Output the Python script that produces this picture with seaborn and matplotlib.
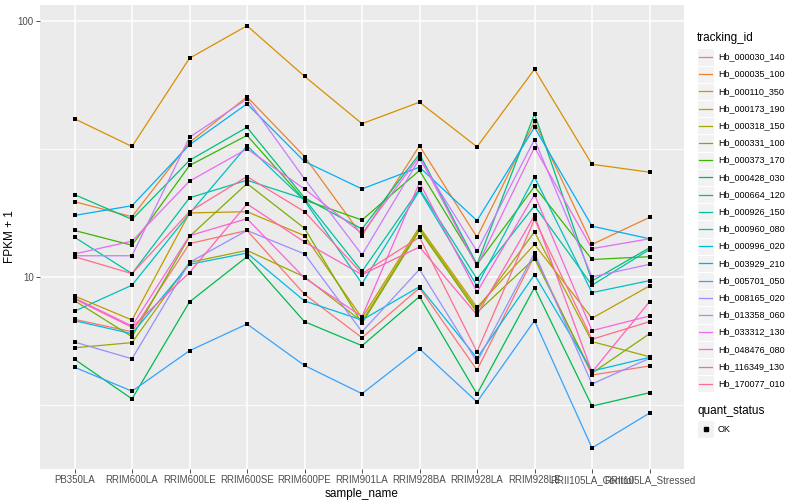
import matplotlib
matplotlib.use('Agg')
import matplotlib.pyplot as plt
from matplotlib.lines import Line2D
from matplotlib.patches import Rectangle
from matplotlib.ticker import NullFormatter
import pandas as pd
import seaborn as sns

samples = ['PB350LA', 'RRIM600LA', 'RRIM600LE', 'RRIM600SE', 'RRIM600PE', 'RRIM901LA',
           'RRIM928BA', 'RRIM928LA', 'RRIM928LE', 'RRII105LA_Control', 'RRII105LA_Stressed']

tracking_ids = ['Hb_000030_140', 'Hb_000035_100', 'Hb_000110_350', 'Hb_000173_190',
                'Hb_000318_150', 'Hb_000331_100', 'Hb_000373_170', 'Hb_000428_030',
                'Hb_000664_120', 'Hb_000926_150', 'Hb_000960_080', 'Hb_000996_020',
                'Hb_003929_210', 'Hb_005701_050', 'Hb_008165_020', 'Hb_013358_060',
                'Hb_033312_130', 'Hb_048476_080', 'Hb_116349_130', 'Hb_170077_010']

# ggplot default hue palette for 20 levels
colors = ['#F8766D', '#EA8331', '#D89000', '#C09B00', '#A3A500', '#7CAE00', '#39B600',
          '#00BB4E', '#00BF7D', '#00C1A3', '#00BFC4', '#00BAE0', '#00B0F6', '#35A2FF',
          '#9590FF', '#C77CFF', '#E76BF3', '#FA62DB', '#FF62BC', '#FF6C90']

# FPKM + 1, one list per gene, in sample order
hb_000030_140 = [6.82, 6.10, 13.5, 15.2, 8.55, 5.78, 9.05, 4.32, 12.1, 4.13, 4.48]
hb_000035_100 = [19.7, 17.2, 33.6, 50.7, 29.6, 14.5, 32.6, 14.3, 40.6, 13.4, 17.1]
hb_000110_350 = [41.6, 32.4, 71.8, 96.2, 61.0, 39.8, 48.3, 32.3, 65.0, 27.6, 25.7]
hb_000173_190 = [8.42, 6.78, 17.8, 18.0, 14.5, 6.91, 15.7, 7.60, 13.4, 6.89, 9.22]
hb_000318_150 = [5.28, 5.53, 11.4, 12.7, 10.0, 6.69, 15.4, 7.42, 15.0, 5.58, 4.87]
hb_000331_100 = [8.07, 5.83, 14.4, 23.2, 15.5, 6.58, 15.2, 7.26, 11.8, 4.20, 5.99]
hb_000373_170 = [15.2, 13.3, 27.3, 35.8, 20.0, 16.7, 26.1, 11.2, 22.6, 11.7, 12.0]
hb_000428_030 = [4.76, 3.33, 7.98, 12.0, 6.68, 5.38, 8.37, 3.48, 9.08, 3.12, 3.52]
hb_000664_120 = [21.0, 16.8, 28.6, 38.5, 20.4, 15.4, 30.3, 11.2, 43.5, 9.64, 13.0]
hb_000926_150 = [14.3, 10.3, 20.4, 23.9, 20.2, 10.5, 22.1, 9.82, 19.0, 9.28, 12.8]
hb_000960_080 = [7.34, 9.28, 17.7, 32.6, 19.9, 9.41, 21.8, 9.22, 24.6, 8.68, 9.67]
hb_000996_020 = [6.74, 5.99, 11.2, 12.4, 8.05, 6.78, 9.16, 4.81, 10.2, 4.28, 4.84]
hb_003929_210 = [17.4, 19.0, 32.9, 47.6, 28.3, 22.1, 26.9, 16.6, 38.5, 15.8, 14.1]
hb_005701_050 = [4.43, 3.57, 5.14, 6.54, 4.50, 3.49, 5.23, 3.24, 6.74, 2.14, 2.93]
hb_008165_020 = [5.56, 4.78, 11.4, 15.2, 12.3, 6.10, 10.7, 4.65, 12.4, 3.81, 4.80]
hb_013358_060 = [12.1, 12.1, 35.2, 49.7, 24.2, 12.2, 29.0, 12.6, 34.5, 10.0, 11.2]
hb_033312_130 = [12.3, 13.8, 23.7, 31.7, 22.1, 14.8, 29.6, 11.0, 32.1, 12.9, 14.1]
hb_048476_080 = [8.27, 6.42, 14.5, 16.9, 9.91, 6.99, 23.4, 8.73, 21.0, 6.16, 7.03]
hb_116349_130 = [8.20, 6.35, 10.4, 19.3, 13.7, 10.2, 13.1, 7.10, 17.4, 4.24, 8.00]
hb_170077_010 = [12.0, 10.3, 18.0, 24.7, 18.0, 10.3, 14.3, 5.09, 16.8, 5.70, 6.68]

series = [hb_000030_140, hb_000035_100, hb_000110_350, hb_000173_190, hb_000318_150,
          hb_000331_100, hb_000373_170, hb_000428_030, hb_000664_120, hb_000926_150,
          hb_000960_080, hb_000996_020, hb_003929_210, hb_005701_050, hb_008165_020,
          hb_013358_060, hb_033312_130, hb_048476_080, hb_116349_130, hb_170077_010]

rows = []
for gene, values in zip(tracking_ids, series):
    for sample, v in zip(samples, values):
        rows.append({'tracking_id': gene, 'sample_name': sample, 'fpkm': v, 'quant_status': 'OK'})
df = pd.DataFrame(rows)

plt.rcParams['font.family'] = ['Liberation Sans', 'DejaVu Sans']

W, H = 800, 500
fig = plt.figure(figsize=(8, 5), dpi=100)
ax = fig.add_axes([40 / W, 1 - 469 / H, 644 / W, 464 / H])
ax.set_facecolor('#EBEBEB')

sns.lineplot(data=df, x='sample_name', y='fpkm', hue='tracking_id', hue_order=tracking_ids,
             palette=colors, sort=False, estimator=None, legend=False, linewidth=0.9, ax=ax)
sns.scatterplot(data=df, x='sample_name', y='fpkm', color='black', marker='s', s=8,
                linewidth=0, legend=False, ax=ax, zorder=3)

ax.set_yscale('log')
ax.set_ylim(1.77, 116)
ax.set_xlim(-0.6, len(samples) - 0.4)
ax.set_yticks([10, 100])
ax.set_yticklabels(['10', '100'])
ax.set_yticks([10 ** 0.5, 10 ** 1.5], minor=True)
ax.yaxis.set_minor_formatter(NullFormatter())
ax.grid(which='major', color='white', linewidth=1.1)
ax.grid(which='minor', axis='y', color='white', linewidth=0.55)
ax.set_axisbelow(True)
for s in ax.spines.values():
    s.set_visible(False)
ax.tick_params(which='major', length=3, width=0.6, color='#333333', labelsize=7,
               labelcolor='#4D4D4D', pad=1.5)
ax.tick_params(which='minor', length=0)
ax.set_xlabel('sample_name', fontsize=8.5, labelpad=2)
ax.set_ylabel('FPKM + 1', fontsize=8.5, labelpad=1)


def fx(x):
    return x / W


def fy(y):
    return 1 - y / H


# legend: tracking_id
fig.text(fx(697), fy(38), 'tracking_id', fontsize=8.5, va='center', ha='left')
key = 17.2
for i, (gene, c) in enumerate(zip(tracking_ids, colors)):
    yc = 57 + i * key
    fig.add_artist(Rectangle((fx(697), fy(yc + key / 2)), key / W, key / H,
                             transform=fig.transFigure, facecolor='#F2F2F2',
                             edgecolor='white', linewidth=0.8))
    fig.add_artist(Line2D([fx(699), fx(712)], [fy(yc), fy(yc)], color=c, linewidth=0.9,
                          transform=fig.transFigure))
    fig.text(fx(718), fy(yc), gene, fontsize=6.5, va='center', ha='left')

# legend: quant_status
fig.text(fx(697), fy(411), 'quant_status', fontsize=8.5, va='center', ha='left')
fig.add_artist(Rectangle((fx(697), fy(429 + key / 2)), key / W, key / H,
                         transform=fig.transFigure, facecolor='#F2F2F2',
                         edgecolor='white', linewidth=0.8))
fig.add_artist(Line2D([fx(705.5)], [fy(429)], marker='s', markersize=2.3, color='black',
                      linestyle='none', transform=fig.transFigure))
fig.text(fx(718), fy(429), 'OK', fontsize=6.5, va='center', ha='left')

fig.savefig('out.png', dpi=100)
